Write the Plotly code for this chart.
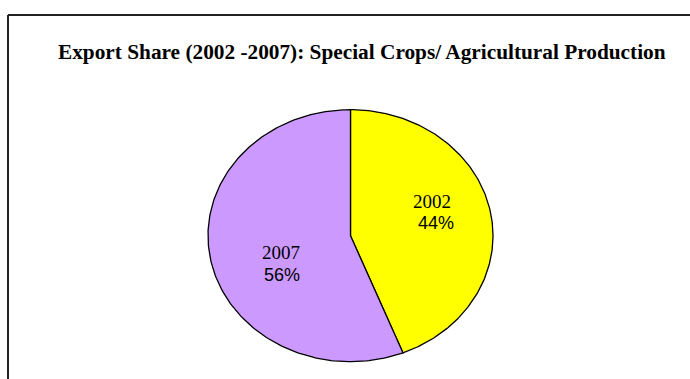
import numpy as np
import plotly.graph_objects as go

# Export share data
years = ["2002", "2007"]
shares = [44, 56]
colors = ["#FFFF00", "#CC99FF"]

W, H = 690, 379
cx, cy = 350.5, 235.7      # pie centre (pixel-mapped axes)
rx, ry = 142.5, 126.0      # elliptical pie radii

fig = go.Figure()

total = sum(shares)
start = 0.0
for year, val, col in zip(years, shares, colors):
    frac = val / total
    ang = np.linspace(start, start + frac, 200) * 2 * np.pi
    xs = np.concatenate([[cx], cx + rx * np.sin(ang), [cx]])
    ys = np.concatenate([[cy], cy - ry * np.cos(ang), [cy]])
    fig.add_trace(go.Scatter(
        x=xs, y=ys, mode="lines", fill="toself", fillcolor=col,
        line=dict(color="black", width=1.3), hoverinfo="skip", showlegend=False,
    ))
    start += frac

# slice labels: year (serif) over percentage (sans)
label_pos = {"2002": (432, 201, 436, 223), "2007": (281, 252, 282, 275)}
for year, val in zip(years, shares):
    x1, y1, x2, y2 = label_pos[year]
    fig.add_annotation(x=x1, y=y1, xref="x", yref="y", text=year, showarrow=False,
                       font=dict(family="Liberation Serif", size=19, color="black"))
    fig.add_annotation(x=x2, y=y2, xref="x", yref="y", text=f"{val}%", showarrow=False,
                       font=dict(family="Liberation Sans", size=18, color="black"))

# title
fig.add_annotation(x=362, y=52, xref="x", yref="y",
                   text="<b>Export Share (2002 -2007): Special Crops/ Agricultural Production</b>",
                   showarrow=False,
                   font=dict(family="Liberation Serif", size=21.3, color="black"))

# chart frame (left and top edges)
fig.add_shape(type="line", x0=8, y0=15, x1=8, y1=H + 5, xref="x", yref="y",
              line=dict(color="#222", width=2))
fig.add_shape(type="line", x0=8, y0=15, x1=W + 5, y1=15, xref="x", yref="y",
              line=dict(color="#222", width=2))

fig.update_layout(
    width=W, height=H, margin=dict(l=0, r=0, t=0, b=0),
    paper_bgcolor="white", plot_bgcolor="white",
    xaxis=dict(range=[0, W], visible=False, fixedrange=True),
    yaxis=dict(range=[H, 0], visible=False, fixedrange=True),
)

fig.write_html("out.html")
